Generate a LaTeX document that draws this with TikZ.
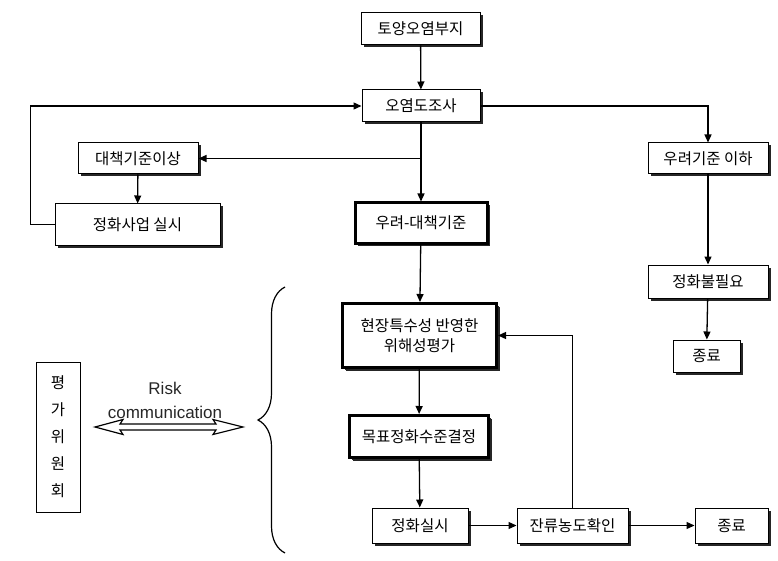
\documentclass[tikz,border=0pt]{standalone}
\usepackage{fontspec}
\newfontfamily\kr{Noto Sans CJK KR}
\newfontfamily\lat{Liberation Sans}
\usetikzlibrary{arrows.meta,shadows,decorations.pathreplacing}
\tikzset{
  box/.style={draw, line width=1pt, fill=white, inner sep=0pt, align=center,
    font=\kr\fontsize{15.5}{20}\selectfont,
    drop shadow={shadow xshift=2.5pt, shadow yshift=-2.5pt, fill=black!85, opacity=1}},
  boldbox/.style={box, line width=3pt,
    drop shadow={shadow xshift=3pt, shadow yshift=-3pt, fill=black!85, opacity=1}},
  arr/.style={line width=1.3pt, -{Triangle[length=8pt,width=7pt]}},
  ln/.style={line width=1.3pt}
}
\begin{document}
\begin{tikzpicture}[x=1pt,y=-1pt]
\useasboundingbox (0,0) rectangle (778,561);
% nodes
\node[box, minimum width=119pt, minimum height=32pt] (top) at (420.5,29) {토양오염부지};
\node[box, minimum width=118pt, minimum height=32pt] (survey) at (421,106) {오염도조사};
\node[box, minimum width=120pt, minimum height=31pt] (above) at (138,158.5) {대책기준이상};
\node[box, minimum width=165pt, minimum height=41pt] (remed) at (137.5,224.5) {정화사업 실시};
\node[boldbox, minimum width=132pt, minimum height=40pt] (crit) at (421,223) {우려-대책기준};
\node[box, minimum width=120pt, minimum height=31pt] (below) at (708,158.5) {우려기준 이하};
\node[box, minimum width=120pt, minimum height=33pt] (noneed) at (708,281.5) {정화불필요};
\node[box, minimum width=67pt, minimum height=32pt] (endone) at (706.5,356) {종료};
\node[boldbox, minimum width=154pt, minimum height=64pt] (risk) at (419.5,335.5) {현장특수성 반영한\\위해성평가};
\node[boldbox, minimum width=139pt, minimum height=42pt] (target) at (419,436.5) {목표정화수준결정};
\node[box, minimum width=96pt, minimum height=35pt] (clean) at (420,525.5) {정화실시};
\node[box, minimum width=111pt, minimum height=35pt] (resid) at (572.5,525.5) {잔류농도확인};
\node[box, minimum width=73pt, minimum height=35pt] (endtwo) at (731.5,525.5) {종료};
\node[draw, line width=1pt, fill=white, minimum width=44pt, minimum height=150pt, inner sep=0pt,
      align=center, font=\kr\fontsize{15.5}{27}\selectfont] (comm) at (58,437) {평\\가\\위\\원\\회};
\node[align=center, font=\lat\fontsize{17}{24}\selectfont, text=black!85] (rc) at (165,400) {Risk\\communication};
% connectors
\coordinate (j1) at (421,158.5);
\draw[arr] (top) -- (survey);
\draw[arr] (survey) -- (crit);
\draw[arr] (j1) -- (above);
\draw[arr] (above) -- (remed);
\draw[arr] (remed.west) -- ++(-24,0) |- (survey.west);
\draw[arr] (survey.east) -| (below.north);
\draw[arr] (below) -- (noneed);
\draw[arr] (noneed) -- (endone);
\draw[arr] (crit) -- (risk);
\draw[arr] (risk) -- (target);
\draw[arr] (target) -- (clean);
\draw[arr] (clean) -- (resid);
\draw[arr] (resid) -- (endtwo);
\draw[arr] (resid.north) |- (risk.east);
% double hollow arrow
\draw[line width=1.2pt, fill=white] (95,427) -- (123,419.5) -- (120,424) -- (216,424) -- (213,419.5)
  -- (243,427) -- (213,434.5) -- (216,430) -- (120,430) -- (123,434.5) -- cycle;
% brace
\draw[line width=1.2pt, decorate, decoration={brace, amplitude=27pt, aspect=0.5}] (285,553) -- (285,287);
\end{tikzpicture}
\end{document}
